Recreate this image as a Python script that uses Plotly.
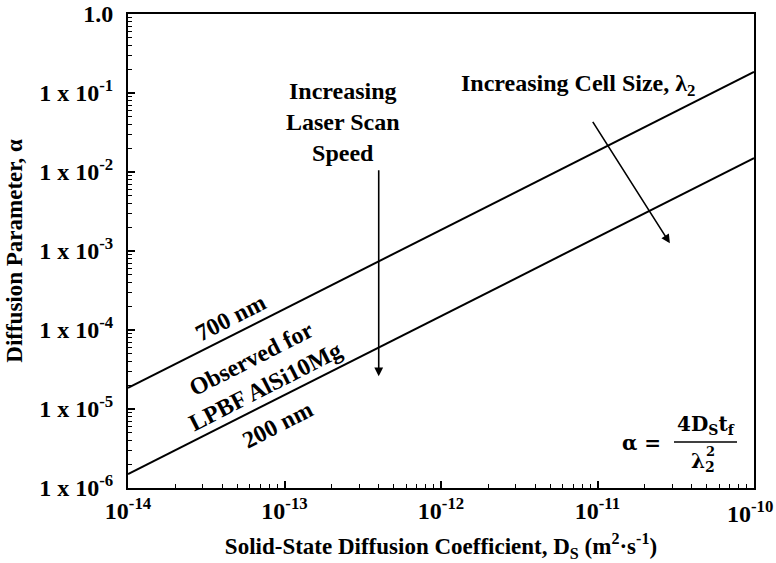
import numpy as np
import plotly.graph_objects as go

# Dati
ds = [1e-14, 1e-10]
alpha_700 = [1.85e-5, 0.185]
alpha_200 = [1.5e-6, 0.015]

y_tickvals = [1e-6, 1e-5, 1e-4, 1e-3, 1e-2, 1e-1, 1.0]
y_ticktext = ["1 x 10<sup>-6</sup>", "1 x 10<sup>-5</sup>", "1 x 10<sup>-4</sup>",
              "1 x 10<sup>-3</sup>", "1 x 10<sup>-2</sup>", "1 x 10<sup>-1</sup>", "1.0"]
x_tickvals = [1e-14, 1e-13, 1e-12, 1e-11, 1e-10]
x_ticktext = ["10<sup>-14</sup>", "10<sup>-13</sup>", "10<sup>-12</sup>",
              "10<sup>-11</sup>", ""]
x_last_label = "10<sup>-10</sup>"

# frecce (inizio -> fine)
speed_arrow = {"x": [4.0e-13, 4.0e-13], "y": [1.1e-2, 2.6e-5]}
cell_arrow = {"x": [9.2e-12, 2.9e-11], "y": [4.5e-2, 1.25e-3]}

FONT = "Liberation Serif"

fig = go.Figure()

for a in [alpha_700, alpha_200]:
    fig.add_trace(go.Scatter(
        x=ds, y=a, mode='lines',
        line=dict(color='black', width=2),
        showlegend=False, hoverinfo='skip'
    ))

# Frecce
for arr in [speed_arrow, cell_arrow]:
    fig.add_annotation(
        x=np.log10(arr["x"][1]), y=np.log10(arr["y"][1]),
        ax=np.log10(arr["x"][0]), ay=np.log10(arr["y"][0]),
        xref='x', yref='y', axref='x', ayref='y',
        showarrow=True, arrowhead=2, arrowsize=1.1, arrowwidth=1.6,
        arrowcolor='black', text=''
    )

def paper(px, py):
    # converte pixel dello screenshot in coordinate paper
    return (px - 128) / 626, (488 - py) / 474

txt = dict(family=FONT, size=24, color='black', weight='bold')

labels = [
    ("Increasing<br>Laser Scan<br>Speed", 343, 122, 0),
    ("Increasing Cell Size, λ<sub>2</sub>", 578, 85, 0),
    ("700 nm", 230, 318, -27),
    ("Observed for<br>LPBF AlSi10Mg", 258, 372, -27),
    ("200 nm", 277, 425, -27),
]
for text, px, py, ang in labels:
    xp, yp = paper(px, py)
    fig.add_annotation(
        x=xp, y=yp, xref='paper', yref='paper', text=text,
        showarrow=False, textangle=ang, font=txt,
        xanchor='center', yanchor='middle'
    )

# ultima etichetta asse x (altrimenti tagliata al bordo)
xp, yp = paper(775, 512)
fig.add_annotation(x=xp, y=yp, xref='paper', yref='paper', text=x_last_label,
                   showarrow=False, xanchor='right', yanchor='middle',
                   font=dict(family=FONT, size=24, color='black', weight='bold'))

# Formula alpha = 4 D_S t_f / lambda_2^2
math_font = dict(family="DejaVu Serif", size=20, color='black', weight='bold')
for text, px, py, size in [("α =", 641, 443, 20),
                           ("4D<sub>S</sub>t<sub>f</sub>", 706, 425, 20),
                           ("λ<sub>2</sub>", 703, 462, 20),
                           ("2", 710, 451, 13)]:
    xp, yp = paper(px, py)
    fig.add_annotation(x=xp, y=yp, xref='paper', yref='paper', text=text,
                       showarrow=False, font=dict(math_font, size=size),
                       xanchor='center', yanchor='middle')
x0, y0 = paper(674, 442)
x1, _ = paper(737, 442)
fig.add_shape(type='line', xref='paper', yref='paper',
              x0=x0, x1=x1, y0=y0, y1=y0, line=dict(color='black', width=1.5))

axis_common = dict(
    type='log', showgrid=False, zeroline=False, automargin=False,
    showline=True, linecolor='black', linewidth=2, mirror=True,
    ticks='inside', ticklen=7, tickwidth=1.5, tickcolor='black',
    tickfont=dict(family=FONT, size=24, color='black', weight='bold'),
    minor=dict(ticks='inside', ticklen=4, tickwidth=1.2, tickcolor='black',
               dtick='D1', showgrid=False),
)

fig.update_xaxes(
    range=[-14, -10], tickmode='array', tickvals=x_tickvals, ticktext=x_ticktext,
    title=dict(text="Solid-State Diffusion Coefficient, D<sub>S</sub> (m<sup>2</sup>·s<sup>-1</sup>)",
               font=dict(family=FONT, size=23, color='black', weight='bold'), standoff=15),
    **axis_common
)
fig.update_yaxes(
    range=[-6, 0], tickmode='array', tickvals=y_tickvals, ticktext=y_ticktext,
    ticklabelstandoff=8,
    title=dict(text="Diffusion Parameter, α",
               font=dict(family=FONT, size=23, color='black', weight='bold'), standoff=10),
    **axis_common
)

fig.update_layout(
    width=776, height=563,
    margin=dict(l=128, r=22, t=14, b=75),
    plot_bgcolor='white', paper_bgcolor='white',
    font=dict(family=FONT, color='black'),
    showlegend=False
)

# niente margine del body, così la figura occupa esattamente la finestra
fig.write_html("out.html", config={'displayModeBar': False},
               post_script="document.body.style.margin='0';document.body.style.overflow='hidden';")
